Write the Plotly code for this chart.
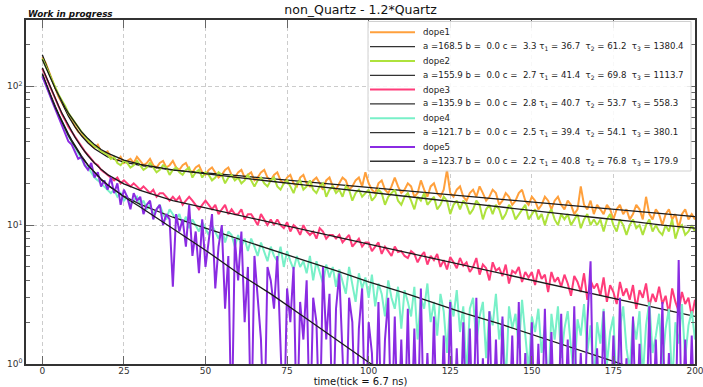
import plotly.graph_objects as go

# ---------------- data ----------------
t = list(range(201))

dope1 = [162, 148, 128, 112, 97, 84, 76, 69, 62, 56,
         52, 47, 45, 43, 40, 38, 36, 38, 34, 33,
         34, 31, 30, 29, 31, 28, 29, 30, 28, 31,
         29, 27, 28, 30, 27, 26, 28, 29, 26, 27,
         29, 26, 25, 27, 28, 25, 24, 26, 27, 24,
         23, 25, 26, 24, 22, 23, 25, 26, 23, 22,
         24, 25, 22, 23, 24, 21, 22, 24, 25, 22,
         21, 23, 24, 21, 20, 22, 23, 20, 19, 22,
         23, 20, 19, 21, 22, 20, 18, 21, 22, 19,
         18, 20, 22, 21, 18, 19, 21, 22, 19, 24,
         20, 18, 17, 20, 21, 18, 17, 19, 22, 19,
         17, 18, 20, 19, 16, 17, 21, 18, 16, 19,
         20, 17, 16, 18, 25, 17, 16, 18, 19, 16,
         15, 17, 18, 16, 19, 17, 15, 16, 18, 17,
         14, 15, 17, 16, 14, 15, 17, 18, 15, 14,
         16, 15, 13, 14, 16, 15, 13, 15, 16, 14,
         13, 15, 14, 12, 13, 19, 14, 13, 15, 12,
         14, 13, 12, 14, 13, 11, 13, 14, 12, 13,
         11, 12, 14, 13, 11, 16, 12, 11, 13, 12,
         10, 12, 13, 11, 12, 9.5, 12, 13, 11, 12,
         11]

dope2 = [158, 140, 124, 110, 97, 87, 79, 72, 64, 59,
         55, 50, 47, 44, 41, 39, 37, 36, 34, 33,
         32, 30, 31, 28, 27, 29, 28, 26, 27, 29,
         27, 25, 26, 28, 26, 24, 25, 27, 26, 23,
         25, 26, 24, 23, 25, 26, 22, 24, 25, 22,
         24, 23, 21, 22, 24, 23, 20, 22, 23, 21,
         22, 20, 21, 23, 21, 19, 21, 22, 20, 19,
         21, 22, 19, 18, 20, 21, 19, 17, 20, 21,
         18, 19, 21, 18, 17, 19, 20, 16, 18, 19,
         17, 18, 16, 19, 18, 15, 17, 18, 16, 17,
         18, 15, 16, 18, 17, 14, 16, 17, 18, 15,
         14, 16, 17, 15, 13, 16, 15, 17, 14, 15,
         16, 13, 14, 16, 15, 12, 14, 15, 13, 15,
         14, 12, 13, 15, 14, 11, 13, 14, 12, 14,
         13, 11, 12, 14, 13, 11, 12, 13, 14, 11,
         12, 13, 11, 12, 10, 12, 13, 11, 10, 12,
         11, 12, 10, 11, 12, 9.5, 11, 12, 10, 11,
         10, 11, 9, 11, 12, 10, 9, 11, 10, 8.5,
         10, 11, 9.5, 10, 8.5, 10, 11, 9, 10, 9,
         8.5, 10, 9, 11, 8, 9.5, 10, 8.5, 9, 10,
         9]

dope3 = [134, 118, 103, 90, 80, 72, 63, 57, 51, 47,
         43, 40, 37, 34, 32, 30, 28, 27, 25, 24,
         23, 22, 21, 22, 20, 21, 20, 19, 20, 19,
         18, 19, 18, 17, 18, 16, 17, 17, 16, 15,
         16, 15, 16, 14, 15, 16, 15, 14, 13, 14,
         15, 14, 13, 14, 12, 13, 14, 12, 13, 12,
         12, 13, 11, 12, 12, 11, 10, 12, 11, 10,
         11, 10, 11, 10, 9.5, 10.5, 9, 10, 9.5, 8.5,
         10, 9, 8.5, 9, 8, 9.5, 9, 8, 8.5, 8.5,
         8, 8.5, 7.5, 8, 8.5, 7, 7.5, 8, 7, 7.5,
         7.5, 6.5, 7, 7.5, 6.2, 7, 6.5, 6, 7, 6.4,
         6.5, 6, 5.8, 6.5, 6.2, 5.4, 6, 6.4, 5.2, 6,
         5.6, 6.2, 5, 5.6, 4.8, 5.9, 5.4, 4.9, 5.8, 5.1,
         5.4, 4.6, 5, 5.8, 4.4, 5.2, 4.9, 4, 5.4, 4.7,
         4.9, 4.3, 5.2, 3.8, 4.7, 4.5, 5, 3.9, 4.6, 4.2,
         4.6, 3.7, 4.8, 4.1, 4.4, 3.3, 4.6, 3.9, 4.2, 3.6,
         4.4, 3.8, 3.1, 4.3, 3.9, 3.3, 4.5, 2.9, 4, 3.5,
         3.8, 3.1, 4.2, 2.8, 3.7, 3.3, 2.7, 3.9, 3.1, 3.5,
         2.9, 3.7, 2.5, 3.4, 3, 3.8, 2.6, 3.2, 2.8, 3.6,
         2.7, 3.1, 2.3, 3.5, 2.8, 2.4, 3.3, 2.7, 3, 2.2,
         2.9]

dope4 = [120, 104, 90, 79, 70, 62, 55, 49, 44, 40,
         36, 33, 30, 27, 26, 24, 22, 21, 20, 19,
         18, 17, 18, 16, 17, 15, 16, 14, 15, 16,
         14, 15, 13, 14, 12, 13, 14, 12, 11, 13,
         12, 11, 12, 10, 11.5, 9.5, 11, 10, 9, 10.5,
         9.5, 8.5, 10, 9, 8, 9.5, 7.5, 9, 8.5, 7,
         8.5, 7, 8, 6.5, 8, 7, 6, 7.5, 6.5, 5.5,
         7, 6, 5.5, 7, 5, 6.5, 5.5, 4.8, 6, 5,
         5.5, 4.5, 6, 4, 5.5, 4.5, 3.8, 5.2, 4.2, 5,
         3.6, 4.8, 4, 3.2, 5, 3.8, 2.8, 4.5, 3.5, 4.2,
         3, 4.4, 2.6, 3.8, 3.2, 2.2, 4, 3, 2.5, 3.6,
         1.8, 3.4, 2.8, 2.2, 3.6, 1.5, 3, 2.5, 3.8, 2,
         2.8, 1.6, 3.2, 2.4, 1.2, 2.9, 2.2, 3.4, 1.7, 2.6,
         0.8, 2.5, 3, 1.4, 2.2, 2.8, 1.1, 2.4, 1.9, 3.2,
         1.5, 2.1, 0.7, 2.6, 1.8, 2.3, 1.3, 2.9, 1.6, 0.9,
         2.2, 1.7, 2.5, 1.2, 1.9, 0.6, 2.3, 1.5, 2.6, 1.1,
         1.8, 2.4, 1.3, 0.8, 2.1, 1.6, 2.7, 1.2, 1.9, 0.7,
         2.0, 1.4, 2.5, 1.0, 1.7, 2.2, 0.6, 1.8, 2.6, 1.3,
         0.9, 2.1, 1.5, 2.4, 0.8, 1.9, 2.8, 1.2, 1.6, 2.3,
         1.0, 1.8, 2.5, 0.7, 2.0, 1.4, 2.7, 1.1, 1.9, 2.4,
         1.5]

dope5 = [118, 104, 90, 78, 68, 60, 52, 46, 40, 38,
         34, 30, 31, 27, 25, 28, 22, 24, 19, 21,
         18, 22, 17, 20, 14, 18, 16, 13, 17, 15,
         16, 12, 14, 15, 11, 13, 14, 10, 12, 11,
         3.6, 12, 9, 11, 7, 14, 6, 9, 4.5, 11,
         5, 8, 12, 3.5, 7, 10, 2.5, 6, 0.3, 8,
         4, 9, 2, 5, 0.3, 6, 3, 1.5, 0.3, 5,
         4, 2.5, 6, 1.2, 0.3, 3.5, 2, 5, 0.3, 2.8,
         1.5, 4, 0.3, 3, 2, 0.3, 5, 1.5, 3.2, 0.3,
         2.5, 4.5, 1, 0.3, 3, 2, 0.3, 1.8, 3.5, 0.3,
         2, 1.2, 0.3, 2.8, 0.3, 1.5, 3, 0.3, 2.2, 0.3,
         1.5, 0.3, 2.5, 0.3, 1.8, 0.3, 3.5, 0.3, 1.2, 0.3,
         2.2, 0.3, 0.3, 1.6, 0.3, 2.8, 0.3, 1.3, 0.3, 2,
         0.3, 1.8, 0.3, 3, 0.3, 1.1, 0.3, 2.4, 0.3, 1.5,
         0.3, 2.2, 0.3, 0.3, 1.6, 0.3, 2.8, 0.3, 1.2, 0.3,
         2, 0.3, 1.4, 0.3, 2.5, 0.3, 1.7, 0.3, 0.3, 2.3,
         0.3, 1.5, 0.3, 2.6, 0.3, 1.2, 0.3, 2, 5.5, 0.3,
         1.3, 0.3, 2.4, 0.3, 0.3, 1.6, 0.3, 3, 0.3, 1.1,
         0.3, 2.2, 0.3, 1.4, 0.3, 0.3, 2.6, 0.3, 1.5, 0.3,
         2.8, 0.3, 1.2, 0.3, 0.3, 5.6, 0.3, 1.5, 0.3, 1.6,
         0.3]

fit_t = [0, 1, 2, 3, 4, 5, 6, 7, 8, 9, 10, 12, 14, 16, 18, 20, 25, 30, 40, 50,
         60, 70, 80, 90, 100, 110, 120, 130, 140, 150, 160, 170, 180, 190, 200]
fit1 = [168.5, 145, 126, 110, 96, 85, 76, 68, 61, 56, 51, 44, 39, 35.5, 33, 31, 28.4, 26.9, 24.9, 23.9,
        22.7, 21.6, 20.6, 19.6, 18.7, 17.8, 17.0, 16.2, 15.4, 14.7, 14.0, 13.3, 12.7, 12.1, 11.5]
fit2 = [155.9, 137, 121, 108, 96, 86, 78, 70, 64, 59, 54.5, 47, 42, 38, 35, 33, 29.4, 27.4, 25.0, 23.4,
        22.0, 20.7, 19.5, 18.4, 17.3, 16.3, 15.3, 14.4, 13.6, 12.8, 12.0, 11.3, 10.7, 10.0, 9.5]
fit3 = [135.9, 119, 104, 91.5, 81, 72, 64, 57.6, 52, 47.2, 43, 36.5, 31.6, 28, 25.2, 23.1, 19.8, 17.8, 15.0, 13.3,
        11.8, 10.5, 9.3, 8.25, 7.3, 6.5, 5.75, 5.1, 4.5, 4.0, 3.55, 3.15, 2.8, 2.5, 2.2]
fit4 = [121.7, 106, 92.5, 81, 71.4, 63.2, 56.2, 50.4, 45.3, 41, 37.3, 31.5, 27, 23.7, 21.2, 19.3, 16.2, 14.1, 11.4, 9.5,
        8.0, 6.7, 5.6, 4.7, 3.9, 3.3, 2.75, 2.3, 1.95, 1.63, 1.37, 1.15, 0.96, 0.8, 0.68]
fit5 = [123.7, 106, 92, 80, 70, 62, 55, 49, 44, 40, 36.5, 31, 27, 24, 21.5, 19.5, 16, 13.5, 9.5, 6.6,
        4.5, 3.2, 2.2, 1.5, 1.03, 0.72, 0.5, 0.35, 0.24, 0.17, 0.12, 0.08, 0.06, 0.04, 0.03]

names = ["dope1", "dope2", "dope3", "dope4", "dope5"]
colors = ["#ffa03c", "#aee23c", "#ff3c7a", "#78f0c8", "#8a2be2"]
par_a = [168.5, 155.9, 135.9, 121.7, 123.7]
par_b = [0.0, 0.0, 0.0, 0.0, 0.0]
par_c = [3.3, 2.7, 2.8, 2.5, 2.2]
par_tau1 = [36.7, 41.4, 40.7, 39.4, 40.8]
par_tau2 = [61.2, 69.8, 53.7, 54.1, 76.8]
par_tau3 = [1380.4, 1113.7, 558.3, 380.1, 179.9]

x_ticks = [0, 25, 50, 75, 100, 125, 150, 175, 200]
y_ticks = [1, 10, 100]
y_ticktext = ["10<sup>0</sup>", "10<sup>1</sup>", "10<sup>2</sup>"]
y_minor = [2, 3, 4, 5, 6, 7, 8, 9, 20, 30, 40, 50, 60, 70, 80, 90, 200, 300]

data = [dope1, dope2, dope3, dope4, dope5]
fits = [fit1, fit2, fit3, fit4, fit5]
for d in data:
    assert len(d) == 201, len(d)
for f in fits:
    assert len(f) == len(fit_t)

# ---------------- figure ----------------
W, H = 703, 387
L, R, T, B = 26, 695, 20, 364          # plot area in pixels
FONT = "DejaVu Sans"


def pxx(x):
    return (x - L) / (R - L)


def pxy(y):
    return (B - y) / (B - T)


fig = go.Figure()
for i in range(5):
    fig.add_trace(go.Scatter(x=t, y=data[i], mode="lines", name=names[i],
                             line=dict(color=colors[i], width=2), showlegend=False))
    fig.add_trace(go.Scatter(x=fit_t, y=fits[i], mode="lines",
                             line=dict(color="#1a1a1a", width=1.3), showlegend=False))

# manual legend
shapes = []
annotations = []
shapes.append(dict(type="rect", xref="paper", yref="paper",
                   x0=pxx(368), x1=pxx(691), y0=pxy(171), y1=pxy(21.5),
                   line=dict(color="#d0d0d0", width=1), fillcolor="rgba(255,255,255,0.85)",
                   layer="above"))
row0, dy = 32.3, 14.33
for i in range(5):
    label_fit = ("a =%.1f b = %4.1f c = %4.1f τ<sub>1</sub> = %.1f  τ<sub>2</sub> = %.1f  τ<sub>3</sub> = %.1f"
                 % (par_a[i], par_b[i], par_c[i], par_tau1[i], par_tau2[i], par_tau3[i]))
    for j, (txt, col, lw) in enumerate([(names[i], colors[i], 2), (label_fit, "#333333", 1.3)]):
        yy = row0 + (2 * i + j) * dy
        shapes.append(dict(type="line", xref="paper", yref="paper",
                           x0=pxx(370), x1=pxx(415), y0=pxy(yy), y1=pxy(yy),
                           line=dict(color=col, width=lw), layer="above"))
        annotations.append(dict(text=txt, xref="paper", yref="paper", x=pxx(421), y=pxy(yy),
                                xanchor="left", yanchor="middle", showarrow=False,
                                font=dict(family=FONT, size=8.6, color="#222222")))

annotations.append(dict(text="<b><i>Work in progress</i></b>", xref="paper", yref="paper",
                        x=0, y=pxy(13.5), xanchor="left", yanchor="middle", showarrow=False,
                        font=dict(family=FONT, size=8.8, color="#111111")))

axis_common = dict(showline=True, linecolor="#333333", linewidth=1.6, mirror="ticks",
                   ticks="inside", ticklen=8, tickwidth=1.3, tickcolor="#666666",
                   showgrid=True, gridcolor="#cccccc", gridwidth=1, griddash="4px,3px",
                   zeroline=False, tickfont=dict(family=FONT, size=9, color="#333333"))

fig.update_layout(
    width=W, height=H,
    margin=dict(l=L, r=W - R, t=T, b=H - B, autoexpand=False),
    paper_bgcolor="white", plot_bgcolor="white",
    title=dict(text="non_Quartz - 1.2*Quartz", x=360.5 / W,
               xanchor="center", y=1 - 9.5 / H, yanchor="middle", yref="container",
               font=dict(family=FONT, size=12.5, color="#111111")),
    xaxis=dict(range=[-5, 200], tickvals=x_ticks, ticklabelstandoff=-3,
               ticklabeloverflow="allow",
               title=dict(text="time(tick = 6.7 ns)", standoff=0,
                          font=dict(family=FONT, size=10, color="#111111")),
               **axis_common),
    yaxis=dict(type="log", range=[0, 2.4771], tickvals=y_ticks, ticktext=y_ticktext,
               minor=dict(tickvals=y_minor, ticks="inside", ticklen=4, tickcolor="#666666",
                          showgrid=False),
               **axis_common),
    shapes=shapes, annotations=annotations,
    showlegend=False,
)

fig.write_html("out.html")
